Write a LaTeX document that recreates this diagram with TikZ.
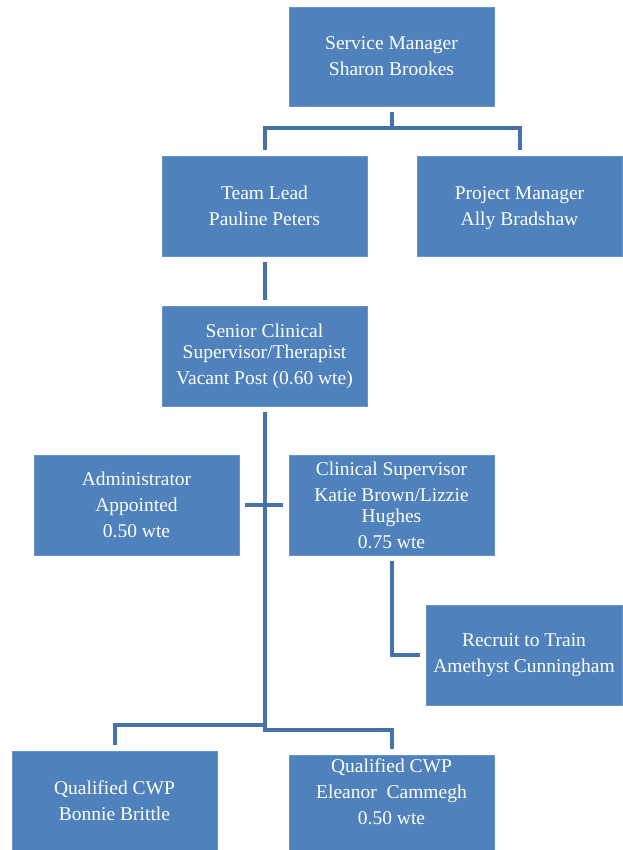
\documentclass[tikz,border=0pt]{standalone}
\usepackage{fontspec}
\setmainfont{Liberation Serif}
\usetikzlibrary{calc}
\definecolor{boxblue}{HTML}{4F81BD}
\definecolor{lineblue}{HTML}{4672AA}
\tikzset{
  box/.style={draw=boxblue!85!white, line width=0.6pt, fill=boxblue, text=white,
    minimum width=205pt, minimum height=100pt, inner sep=0pt, align=center,
    font=\fontsize{19.5}{21}\selectfont},
  conn/.style={draw=lineblue, line width=4pt, line join=miter},
}
\begin{document}
\begin{tikzpicture}[x=1pt,y=-1pt]
\useasboundingbox (0,0) rectangle (622,850);
\fill[white] (0,0) rectangle (622,850);
\node[box, minimum height=99pt] (sm) at (391.5,56.5) {Service Manager\\[5pt]Sharon Brookes};
\node[box] (tl) at (264.5,206) {Team Lead\\[5pt]Pauline Peters};
\node[box] (pm) at (519.5,206) {\raisebox{0pt}[\dimexpr\height+5pt\relax][\depth]{\begin{tabular}{@{}c@{}}Project Manager\\[5pt]Ally Bradshaw\end{tabular}}};
\node[box] (sc) at (264.5,356) {Senior Clinical\\Supervisor/Therapist\\[5pt]Vacant Post (0.60 wte)};
\node[box] (ad) at (136.5,505) {Administrator\\[5pt]Appointed\\[5pt]0.50 wte};
\node[box] (cs) at (391.5,505) {Clinical Supervisor\\[5pt]Katie Brown/Lizzie\\Hughes\\[5pt]0.75 wte};
\node[box, minimum width=196pt] (rt) at (524,655) {Recruit to Train\\[5pt]Amethyst Cunningham};
\node[box] (qb) at (114.5,801) {Qualified CWP\\[5pt]Bonnie Brittle};
\node[box] (qe) at (391.5,805) {\raisebox{0pt}[\height][\dimexpr\depth+22pt\relax]{\begin{tabular}{@{}c@{}}Qualified CWP\\[5pt]Eleanor\ \ Cammegh\\[5pt]0.50 wte\end{tabular}}};
% connectors
\coordinate (h1) at ($(sm.south)+(0,22)$);
\draw[conn] ($(sm.south)+(0,6)$) -- (h1);
\draw[conn] ($(tl.north)+(0,-6)$) |- (h1) -| ($(pm.north)+(0,-6)$);
\draw[conn] ($(tl.south)+(0,6)$) -- ($(sc.north)+(0,-6)$);
\coordinate (tb) at ($(sc.south)+(0,326)$);
\coordinate (jl) at ($(sc.south)+(0,319)$);
\draw[conn] ($(sc.south)+(0,6)$) -- (tb);
\draw[conn] ($(ad.east)+(6,0)$) -- ($(cs.west)+(-6,0)$);
\draw[conn] ($(qb.north)+(0,-6)$) |- (jl);
\draw[conn] ($(tb)+(0,-2)$) -| ($(qe.north)+(0,-6)$);
\draw[conn] ($(cs.south)+(0,6)$) |- ($(rt.west)+(-6,0)$);
\end{tikzpicture}
\end{document}
